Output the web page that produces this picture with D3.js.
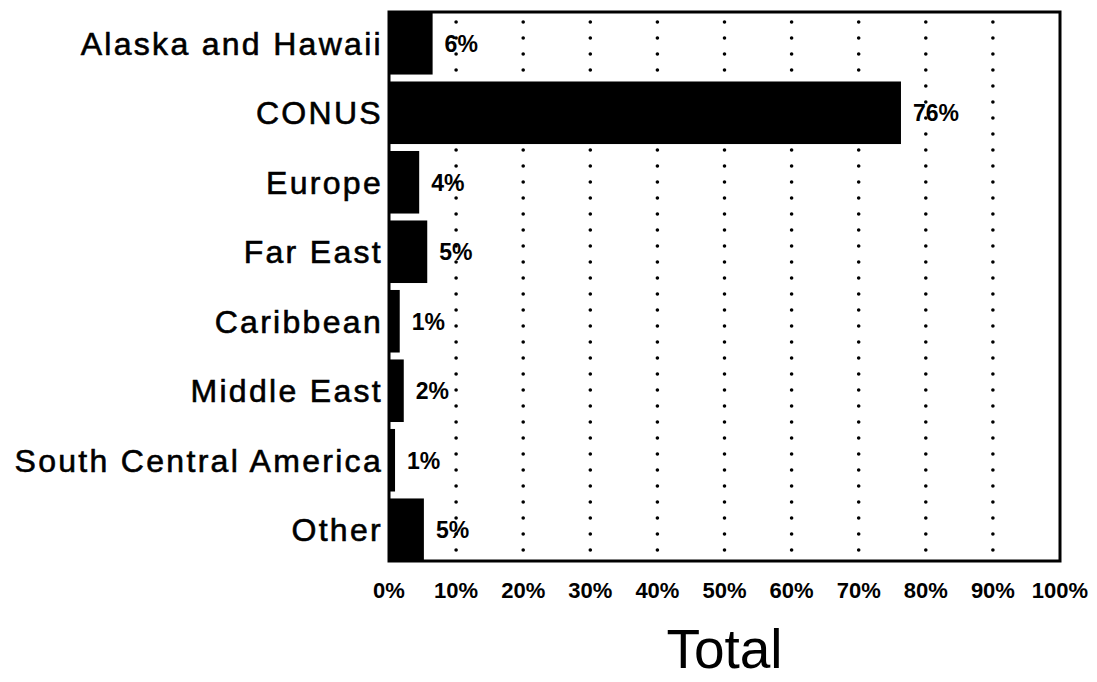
<!DOCTYPE html>
<html><head><meta charset="utf-8">
<script src="https://cdn.jsdelivr.net/npm/d3@7"></script>
<style>body{margin:0;background:#fff}</style>
</head><body>
<svg id="c" width="1097" height="682"></svg>
<script>
const categories = ["Alaska and Hawaii","CONUS","Europe","Far East","Caribbean","Middle East","South Central America","Other"];
const values = [6.5, 76.3, 4.5, 5.7, 1.6, 2.2, 0.9, 5.2];
const valueLabels = ["6%","76%","4%","5%","1%","2%","1%","5%"];
const tickValues = [0,10,20,30,40,50,60,70,80,90,100];
const tickLabels = ["0%","10%","20%","30%","40%","50%","60%","70%","80%","90%","100%"];
const axisTitle = "Total";

const svg = d3.select("#c");
const L = 389, R = 1060, T = 12, B = 561;
const x = d3.scaleLinear().domain([0,100]).range([L,R]);
const y = d3.scaleBand().domain(categories).range([T,B]).paddingInner(0.1).paddingOuter(0);
const FONT = "Liberation Sans, Arial, sans-serif";

// gridlines
svg.append("g").selectAll("line").data(tickValues.filter(d=>d>0&&d<100)).join("line")
  .attr("x1",d=>x(d)).attr("x2",d=>x(d)).attr("y1",T+10).attr("y2",B)
  .attr("stroke","#000").attr("stroke-width",3.6).attr("stroke-linecap","round")
  .attr("stroke-dasharray","0,16");

// bars
svg.append("g").selectAll("rect").data(categories).join("rect")
  .attr("x",x(0)).attr("y",d=>y(d)).attr("height",y.bandwidth())
  .attr("width",(d,i)=>x(values[i])-x(0)).attr("fill","#000");

// value labels
svg.append("g").selectAll("text").data(categories).join("text")
  .attr("x",(d,i)=>x(values[i])+12).attr("y",d=>y(d)+y.bandwidth()/2)
  .attr("dy","0.36em").attr("font-family",FONT)
  .attr("font-weight","bold").attr("font-size",23).text((d,i)=>valueLabels[i]);

// frame
svg.append("rect").attr("x",L).attr("y",T).attr("width",R-L).attr("height",B-T)
  .attr("fill","none").attr("stroke","#000").attr("stroke-width",3);

// category axis labels
svg.append("g").selectAll("text").data(categories).join("text")
  .attr("x",L-6).attr("y",d=>y(d)+y.bandwidth()/2).attr("dy","0.36em")
  .attr("text-anchor","end").attr("font-family",FONT)
  .attr("font-size",32).attr("letter-spacing","2.3px")
  .attr("stroke","#000").attr("stroke-width",0.6).text(d=>d);

// x tick labels
svg.append("g").selectAll("text").data(tickValues).join("text")
  .attr("x",d=>x(d)).attr("y",598).attr("text-anchor","middle")
  .attr("font-family",FONT).attr("font-weight","bold")
  .attr("font-size",22).text((d,i)=>tickLabels[i]);

// axis title
svg.append("text").attr("x",(L+R)/2).attr("y",668).attr("text-anchor","middle")
  .attr("font-family",FONT).attr("font-size",55).text(axisTitle);
</script>
</body></html>
